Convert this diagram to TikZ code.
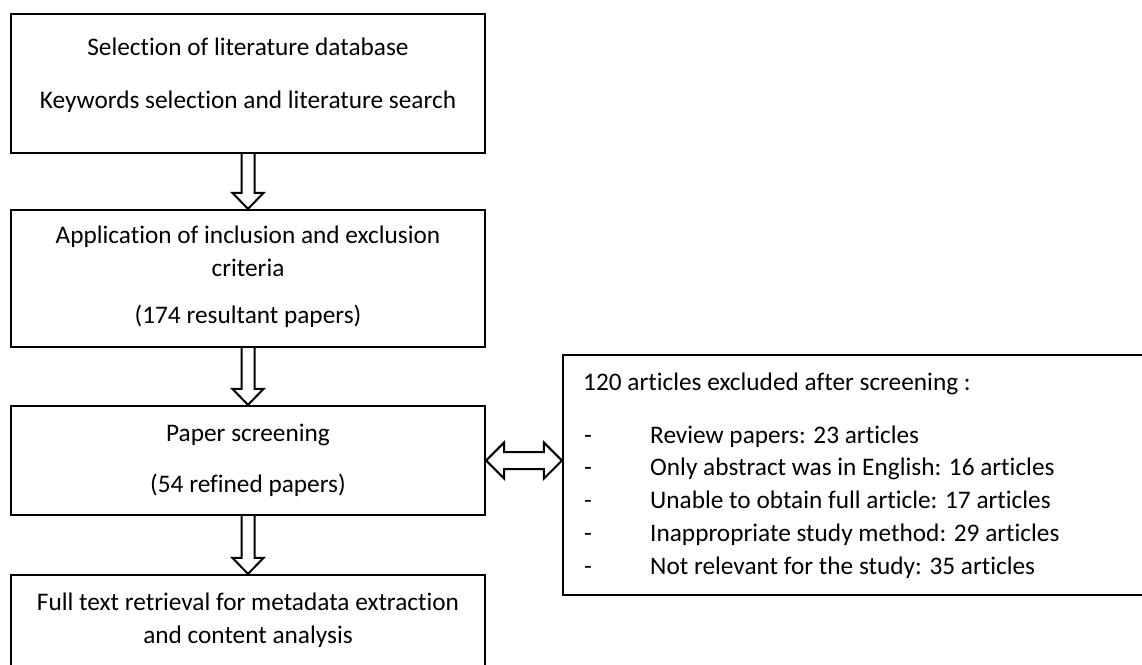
\documentclass[tikz,border=0pt]{standalone}
\usepackage{fontspec}
\setmainfont{Carlito}[Ligatures=NoCommon]
\usetikzlibrary{calc}
\begin{document}
\begin{tikzpicture}[x=1pt,y=-1pt,
  box/.style={draw,line width=2.2pt,inner sep=0pt,rectangle},
  txt/.style={anchor=base,inner sep=0pt,font=\fontsize{25.3}{30}\selectfont},
  ltxt/.style={anchor=base west,inner sep=0pt,font=\fontsize{25.3}{30}\selectfont},
  downarrow/.style={line width=2pt,line join=miter,
    to path={let \p1=(\tikztostart), \p2=(\tikztotarget) in
      (\x1-6.5,\y1) -- (\x1-6.5,\y2+16) -- (\x1-15.5,\y2+16) -- (\x1,\y2) --
      (\x1+15.5,\y2+16) -- (\x1+6.5,\y2+16) -- (\x1+6.5,\y1)}},
  botharrow/.style={line width=2pt,line join=miter,
    to path={let \p1=(\tikztostart), \p2=(\tikztotarget) in
      (\x1,\y1) -- (\x1+18,\y1+18) -- (\x1+18,\y1+8.5) -- (\x2-18,\y1+8.5) --
      (\x2-18,\y1+18) -- (\x2,\y1) -- (\x2-18,\y1-18) -- (\x2-18,\y1-8.5) --
      (\x1+18,\y1-8.5) -- (\x1+18,\y1-18) -- cycle}}
]
\clip (0,0) rectangle (1142,664);
\fill[white] (0,0) rectangle (1142,664);

% boxes
\node[box,minimum width=474pt,minimum height=139pt] (b1) at (248,83.5) {};
\node[box,minimum width=474pt,minimum height=137pt] (b2) at (248,278.5) {};
\node[box,minimum width=474pt,minimum height=109pt] (b3) at (248,460.5) {};
\node[box,minimum width=474pt,minimum height=93pt] (b4) at (248,621.5) {};
\node[box,minimum width=583pt,minimum height=240pt] (rb) at (854.5,475) {};

% texts
\node[txt] (t1a) at (248,55) {Selection of literature database};
\node[txt] (t1b) at (248,108) {Keywords selection and literature search};
\node[txt] (t2a) at (248,243) {Application of inclusion and exclusion};
\node[txt] (t2b) at (248,276) {criteria};
\node[txt] (t2c) at (248,323) {(174 resultant papers)};
\node[txt] (t3a) at (248,441) {Paper screening};
\node[txt] (t3b) at (248,492) {(54 refined papers)};
\node[txt] (t4a) at (248,610) {Full text retrieval for metadata extraction};
\node[txt] (t4b) at (248,643) {and content analysis};

\node[ltxt] (rt) at (583,390) {120 articles excluded after screening :};
\node[ltxt] (d1) at (584,443) {-};
\node[ltxt] (i1) at (650,443) {Review papers: 23 articles};
\node[ltxt] (d2) at (584,475) {-};
\node[ltxt] (i2) at (650,475) {Only abstract was in English: 16 articles};
\node[ltxt] (d3) at (584,508) {-};
\node[ltxt] (i3) at (650,508) {Unable to obtain full article: 17 articles};
\node[ltxt] (d4) at (584,541) {-};
\node[ltxt] (i4) at (650,541) {Inappropriate study method: 29 articles};
\node[ltxt] (d5) at (584,574) {-};
\node[ltxt] (i5) at (650,574) {Not relevant for the study: 35 articles};

% arrows
\draw[downarrow] (b1.south) to (b2.north);
\draw[downarrow] (b2.south) to (b3.north);
\draw[downarrow] (b3.south) to (b4.north);
\draw[botharrow] (b3.east) to (b3.east -| rb.west);
\end{tikzpicture}
\end{document}
